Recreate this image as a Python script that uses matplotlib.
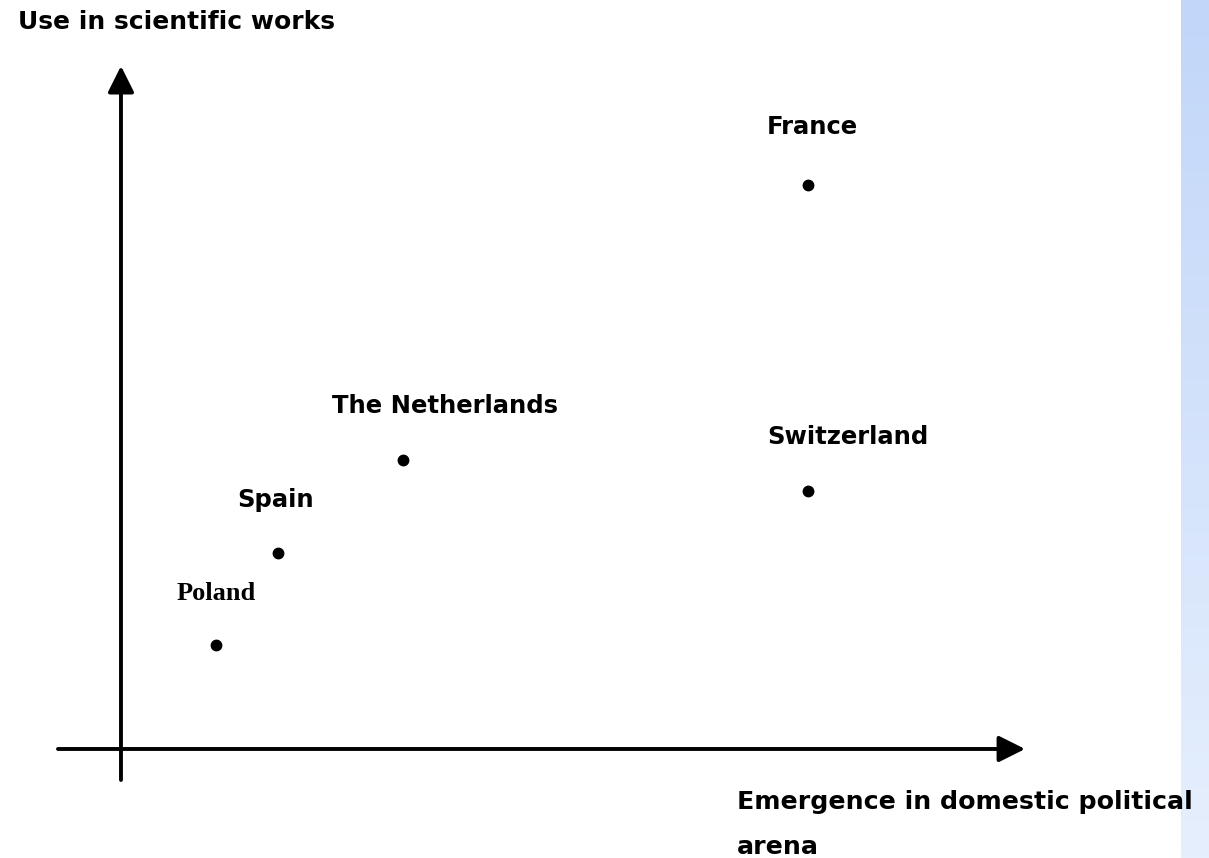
import numpy as np
import matplotlib
matplotlib.use('Agg')
import matplotlib.pyplot as plt
from matplotlib.patches import FancyArrowPatch

# country positions (arbitrary units)
countries = ['France', 'Switzerland', 'The Netherlands', 'Spain', 'Poland']
emergence = [10.0, 10.0, 4.10, 2.29, 1.38]
scientific_use = [10.0, 4.57, 5.13, 3.48, 1.84]

title_text = 'Use in scientific works'
xlabel_lines = ['Emergence in domestic political', 'arena']

# label offsets in pixels (dx, dy from the dot to the label baseline-left)
label_offsets = {
    'France': (-41, 51),
    'Switzerland': (-41, 47),
    'The Netherlands': (-71, 47),
    'Spain': (-41, 46),
    'Poland': (-39, 45),
}

W, H = 1209, 858
fig = plt.figure(figsize=(W / 100, H / 100), dpi=100)
fig.patch.set_facecolor('white')

ax = fig.add_axes([0, 0, 1, 1])
ax.set_xlim(-1.761, 15.837)
ax.set_ylim(-1.933, 13.28)
ax.axis('off')

# axes with arrow heads
style = '-|>,head_length=0.8,head_width=0.4'
ax.add_patch(FancyArrowPatch((-0.917, 0), (13.16, 0), arrowstyle=style,
                             mutation_scale=20, lw=2.8, color='black',
                             shrinkA=0, shrinkB=0))
ax.add_patch(FancyArrowPatch((0, -0.55), (0, 12.11), arrowstyle=style,
                             mutation_scale=20, lw=2.8, color='black',
                             shrinkA=0, shrinkB=0))

ax.plot(emergence, scientific_use, 'o', color='black', markersize=7.5, ls='none')

for name, x, y in zip(countries, emergence, scientific_use):
    dx, dy = label_offsets[name]
    if name == 'Poland':
        fam = 'Liberation Serif'
        size = 19
    else:
        fam = 'DejaVu Sans'
        size = 17.5
    ax.annotate(name, (x, y), xytext=(dx, dy), textcoords='offset pixels',
                ha='left', va='baseline', fontsize=size, fontweight='bold',
                family=fam)

fig.text(18 / W, 1 - 29 / H, title_text, ha='left', va='baseline',
         fontsize=18, fontweight='bold')
fig.text(737 / W, 1 - 809 / H, xlabel_lines[0], ha='left', va='baseline',
         fontsize=18.2, fontweight='bold')
fig.text(737 / W, 1 - 854 / H, xlabel_lines[1], ha='left', va='baseline',
         fontsize=18.2, fontweight='bold')

# light blue strip at the right edge
strip = fig.add_axes([1181 / W, 0, 1 - 1181 / W, 1])
top = np.array([0xc1, 0xd6, 0xf9]) / 255
bottom = np.array([0xe6, 0xef, 0xfd]) / 255
t = np.linspace(0, 1, 256)[:, None]
grad = top[None, :] * (1 - t) + bottom[None, :] * t
strip.imshow(grad[:, None, :], aspect='auto', extent=(0, 1, 0, 1))
strip.axis('off')

fig.savefig('out.png', dpi=100)
